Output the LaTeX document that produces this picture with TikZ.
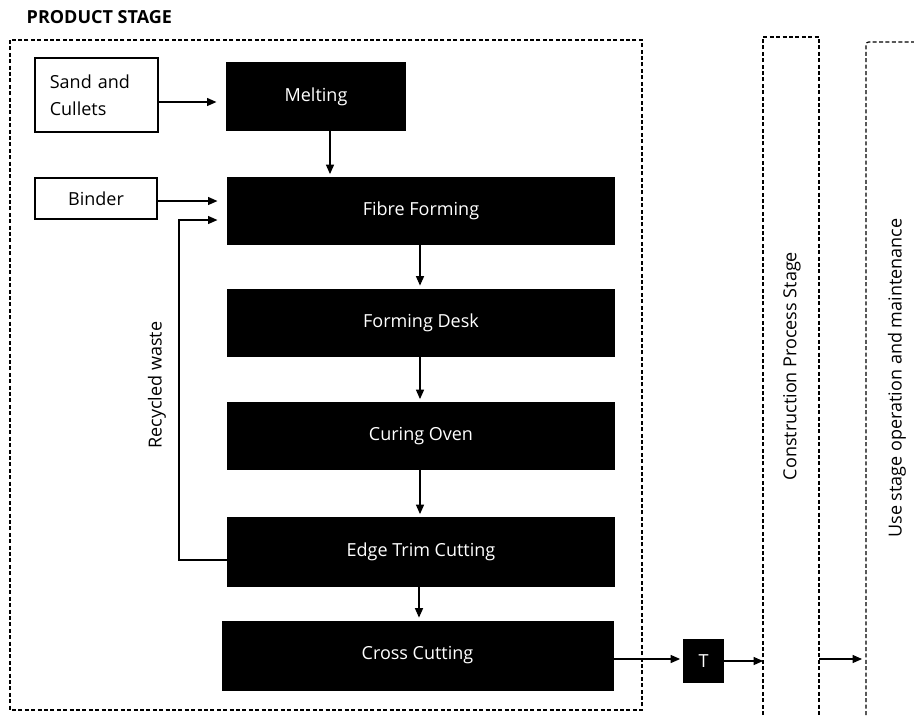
\documentclass[tikz,border=0pt]{standalone}
\usepackage{fontspec}
\setmainfont{Open Sans}
\usetikzlibrary{arrows.meta}

\begin{document}
\begin{tikzpicture}[x=0.75pt,y=-0.75pt,
        font=\fontsize{13.5}{20}\selectfont,
        proc/.style={fill=black, text=white, inner sep=0pt, minimum height=51pt},
        src/.style={draw, line width=0.8pt, inner sep=0pt},
        flow/.style={-{Triangle[length=7pt,width=6pt]}, line width=0.8pt},
        stage/.style={line width=0.9pt, dash pattern=on 3pt off 1.8pt}]
        \useasboundingbox (0,0) rectangle (914,715);

        \node[anchor=west, font=\fontsize{13.5}{16}\selectfont\bfseries]
            (title) at (22,17) {PRODUCT STAGE};

        % Stage frames.
        \draw[stage] (10,40) rectangle (642,710);
        \draw[stage] (763,715) -- (763,37) -- (819,37) -- (819,715);
        \draw[stage, rounded corners=2pt] (866,715) -- (866,42) -- (916,42);

        % Inputs.
        \node[src, minimum width=92.25pt, minimum height=55.5pt,
            text width=70pt, inner xsep=11pt, align=left]
            (sand) at (96.5,95) {Sand and\\Cullets};
        \node[src, minimum width=91.5pt, minimum height=30.75pt]
            (binder) at (96,198.5) {Binder};

        % Process line.
        \node[proc, minimum width=135pt, minimum height=51.75pt]
            (melt) at (316,96.5) {Melting};
        \node[proc, minimum width=291pt] (fibre) at (421,211) {Fibre Forming};
        \node[proc, minimum width=291pt] (desk) at (421,322.5) {Forming Desk};
        \node[proc, minimum width=291pt] (oven) at (421,436) {Curing Oven};
        \node[proc, minimum width=291pt, minimum height=52.5pt]
            (trim) at (421,552) {Edge Trim Cutting};
        \node[proc, minimum width=294pt, minimum height=52.5pt]
            (cross) at (417.5,655.5) {Cross Cutting};
        \node[proc, minimum width=30.75pt, minimum height=33pt]
            (t) at (703.5,661) {T};

        \node[rotate=90] (rw) at (157,385) {Recycled waste};
        \node[rotate=90] (cps) at (792,366) {Construction Process Stage};
        \node[rotate=90] (use) at (897,378) {Use stage operation and maintenance};

        \coordinate (cpsin) at (763,661);
        \coordinate (cpsout) at (819,659);
        \coordinate (usein) at (866,659);

        % Connectors.
        \draw[flow, shorten >=7pt] (sand.east |- 0,102) -- (melt.west |- 0,102);
        \draw[flow, shorten >=2pt] (melt.south -| 330,0) -- (fibre.north -| 330,0);
        \draw[flow, shorten >=7pt] (binder.east |- 0,201) -- (fibre.west |- 0,201);
        \draw[flow, shorten >=7pt] (trim.west |- 0,560) -| (179,400)
            |- (fibre.west |- 0,220);
        \draw[flow, shorten >=2pt] (fibre.south -| 420,0) -- (desk.north -| 420,0);
        \draw[flow, shorten >=2pt] (desk.south -| 420,0) -- (oven.north -| 420,0);
        \draw[flow, shorten >=2pt] (oven.south -| 420,0) -- (trim.north -| 420,0);
        \draw[flow, shorten >=2pt] (trim.south -| 419,0) -- (cross.north -| 419,0);
        \draw[flow, shorten >=2pt] (cross.east |- 0,659) -- (t.west |- 0,659);
        \draw[flow] (t.east) -- (cpsin);
        \draw[flow, shorten >=3pt] (cpsout) -- (usein);
\end{tikzpicture}
\end{document}
